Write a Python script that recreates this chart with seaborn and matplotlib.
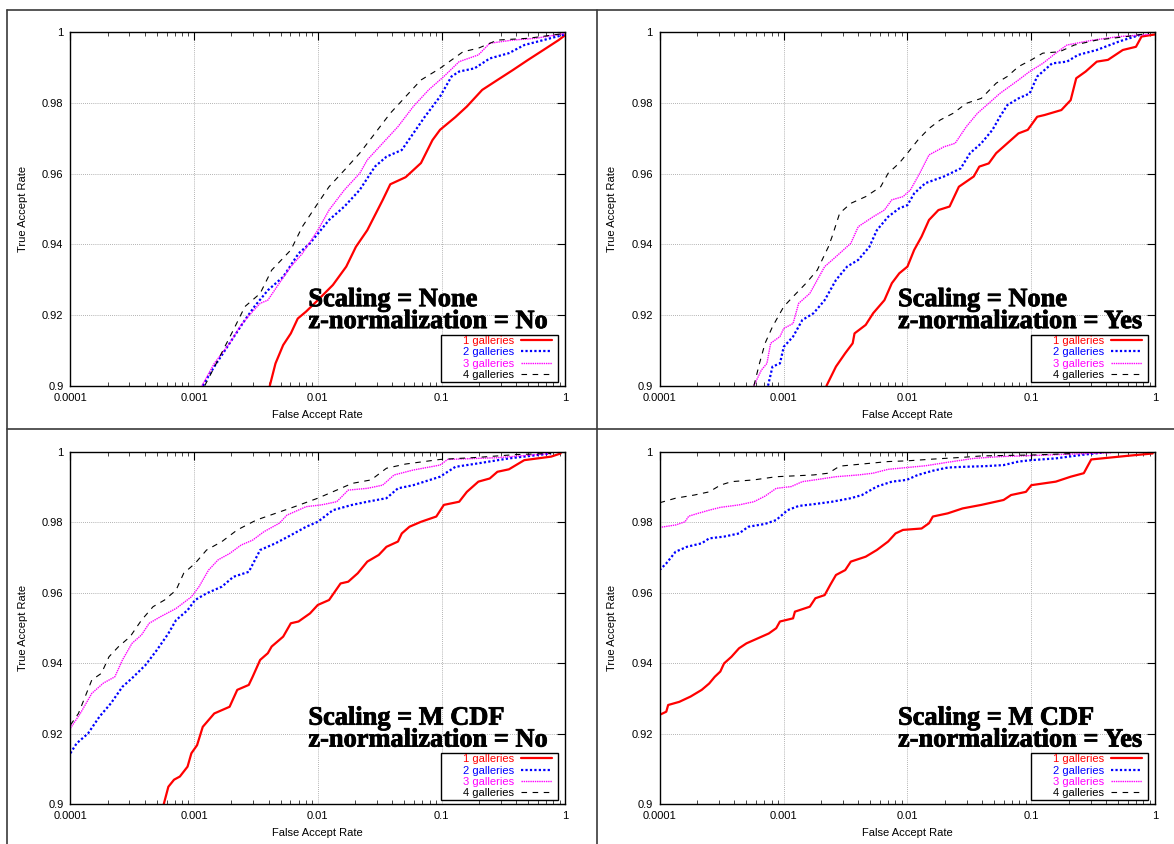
import numpy as np
import pandas as pd
import matplotlib
matplotlib.use("Agg")
import matplotlib.pyplot as plt
from matplotlib.lines import Line2D
from matplotlib.patches import Rectangle
import matplotlib.patheffects as pe
from matplotlib.ticker import LogLocator, FixedLocator, FixedFormatter, NullFormatter
import seaborn as sns

sns.set_theme(style="white")
plt.rcParams["font.family"] = ["Liberation Sans", "DejaVu Sans"]
plt.rcParams["text.color"] = "black"
plt.rcParams["axes.labelcolor"] = "black"

# ---------------- data (FAR stored as log10 values, TAR as-is) ----------------
series_labels = ["1 galleries", "2 galleries", "3 galleries", "4 galleries"]
x_tick_vals = [0.0001, 0.001, 0.01, 0.1, 1]
x_tick_labels = ["0.0001", "0.001", "0.01", "0.1", "1"]
y_tick_vals = [0.9, 0.92, 0.94, 0.96, 0.98, 1.0]
y_tick_labels = ["0.9", "0.92", "0.94", "0.96", "0.98", "1"]
panel_titles = ["Scaling = None\nz-normalization = No",
                "Scaling = None\nz-normalization = Yes",
                "Scaling = M CDF\nz-normalization = No",
                "Scaling = M CDF\nz-normalization = Yes"]

# Panel 1: Scaling None, z-norm No
p1_g1_logfar = [-2.388, -2.342, -2.28, -2.218, -2.162, -2.094, -2.0, -1.878, -1.77, -1.692, -1.6, -1.476, -1.414, -1.29, -1.166, -1.073, -1.012, -0.888, -0.795, -0.671, -0.548, -0.424, -0.3, -0.176, -0.053, 0.0]
p1_g1_tar = [0.9, 0.9063, 0.9115, 0.9148, 0.919, 0.921, 0.9242, 0.9285, 0.9337, 0.9393, 0.944, 0.9525, 0.957, 0.959, 0.963, 0.9695, 0.9724, 0.976, 0.979, 0.9837, 0.9865, 0.9893, 0.9922, 0.995, 0.9978, 0.9992]
p1_g2_logfar = [-2.93, -2.837, -2.713, -2.589, -2.512, -2.404, -2.28, -2.156, -2.063, -2.0, -1.909, -1.785, -1.661, -1.538, -1.445, -1.321, -1.228, -1.135, -1.012, -0.919, -0.857, -0.733, -0.61, -0.455, -0.331, -0.176, 0.0]
p1_g2_tar = [0.9, 0.9054, 0.912, 0.9186, 0.9224, 0.927, 0.9308, 0.9374, 0.9403, 0.943, 0.9469, 0.9507, 0.9554, 0.962, 0.9648, 0.9667, 0.9714, 0.9761, 0.9818, 0.9875, 0.9889, 0.9898, 0.9926, 0.9941, 0.9964, 0.9978, 0.9994]
p1_g3_logfar = [-2.936, -2.837, -2.713, -2.62, -2.527, -2.466, -2.404, -2.311, -2.218, -2.125, -2.0, -1.909, -1.785, -1.661, -1.6, -1.476, -1.352, -1.228, -1.104, -0.981, -0.857, -0.702, -0.61, -0.424, -0.238, 0.0]
p1_g3_tar = [0.9, 0.9063, 0.912, 0.9172, 0.921, 0.9233, 0.9242, 0.929, 0.9337, 0.9374, 0.944, 0.9497, 0.9554, 0.9601, 0.9639, 0.9686, 0.9733, 0.979, 0.9837, 0.9875, 0.9917, 0.9936, 0.9969, 0.9978, 0.9983, 0.9997]
p1_g4_logfar = [-2.914, -2.806, -2.682, -2.589, -2.466, -2.373, -2.218, -2.125, -2.0, -1.909, -1.785, -1.661, -1.538, -1.414, -1.29, -1.166, -1.012, -0.826, -0.702, -0.548, -0.3, 0.0]
p1_g4_tar = [0.9, 0.9073, 0.9158, 0.9224, 0.9261, 0.9327, 0.9384, 0.945, 0.9516, 0.9563, 0.961, 0.9658, 0.9714, 0.9771, 0.9818, 0.9865, 0.9898, 0.9945, 0.9955, 0.9978, 0.9983, 0.9997]

# Panel 2: Scaling None, z-norm Yes
p2_g1_logfar = [-2.653, -2.577, -2.502, -2.442, -2.427, -2.337, -2.277, -2.186, -2.126, -2.066, -2.0, -1.946, -1.886, -1.826, -1.75, -1.66, -1.585, -1.465, -1.42, -1.344, -1.284, -1.194, -1.104, -1.029, -0.953, -0.893, -0.758, -0.683, -0.638, -0.562, -0.472, -0.382, -0.262, -0.156, -0.111, 0.0]
p2_g1_tar = [0.9, 0.9054, 0.9092, 0.912, 0.9148, 0.9172, 0.9205, 0.9242, 0.929, 0.9318, 0.9337, 0.9384, 0.9422, 0.9469, 0.9497, 0.9507, 0.9563, 0.9592, 0.962, 0.9629, 0.9658, 0.9686, 0.9714, 0.9724, 0.9761, 0.9766, 0.978, 0.9808, 0.987, 0.9889, 0.9917, 0.9922, 0.995, 0.9959, 0.9988, 0.9994]
p2_g2_logfar = [-3.125, -3.089, -3.029, -2.998, -2.923, -2.848, -2.758, -2.668, -2.577, -2.487, -2.397, -2.307, -2.247, -2.156, -2.066, -2.0, -1.946, -1.856, -1.705, -1.57, -1.495, -1.404, -1.314, -1.254, -1.194, -1.104, -1.014, -0.953, -0.833, -0.713, -0.623, -0.472, -0.292, -0.111]
p2_g2_tar = [0.9, 0.9054, 0.9063, 0.911, 0.9139, 0.9186, 0.9205, 0.9242, 0.9299, 0.9337, 0.9356, 0.9393, 0.944, 0.9478, 0.9502, 0.9511, 0.9544, 0.9573, 0.9592, 0.9615, 0.9658, 0.9686, 0.9724, 0.9761, 0.9794, 0.9813, 0.9827, 0.9875, 0.9912, 0.9917, 0.9936, 0.995, 0.9974, 0.9994]
p2_g3_logfar = [-3.239, -3.179, -3.134, -3.104, -3.029, -2.998, -2.923, -2.878, -2.788, -2.668, -2.577, -2.457, -2.397, -2.277, -2.186, -2.126, -2.036, -1.976, -1.901, -1.826, -1.705, -1.615, -1.525, -1.435, -1.344, -1.254, -1.104, -1.014, -0.908, -0.803, -0.713, -0.502, -0.292, -0.051]
p2_g3_tar = [0.9, 0.9044, 0.9063, 0.912, 0.9139, 0.9162, 0.9176, 0.9233, 0.9261, 0.9337, 0.9365, 0.9403, 0.945, 0.9478, 0.9497, 0.9526, 0.9535, 0.9554, 0.9601, 0.9653, 0.9676, 0.9686, 0.9733, 0.9771, 0.9799, 0.9827, 0.9865, 0.9889, 0.9912, 0.9941, 0.9964, 0.9978, 0.9988, 0.9994]
p2_g4_logfar = [-3.239, -3.194, -3.149, -3.089, -2.998, -2.923, -2.818, -2.728, -2.638, -2.608, -2.547, -2.457, -2.337, -2.216, -2.156, -2.066, -2.0, -1.916, -1.826, -1.735, -1.63, -1.525, -1.404, -1.284, -1.194, -1.104, -1.0, -0.908, -0.773, -0.653, -0.472, -0.232, -0.051]
p2_g4_tar = [0.9, 0.9063, 0.912, 0.9167, 0.9224, 0.9252, 0.929, 0.9327, 0.9393, 0.9422, 0.9488, 0.9516, 0.9535, 0.9563, 0.9601, 0.963, 0.9658, 0.9695, 0.9728, 0.9752, 0.9771, 0.9799, 0.9813, 0.9856, 0.9875, 0.9903, 0.9922, 0.9941, 0.9945, 0.9964, 0.9978, 0.9988, 0.9997]

# Panel 3: Scaling M CDF, z-norm No
p3_g1_logfar = [-3.245, -3.208, -3.162, -3.115, -3.053, -3.022, -2.976, -2.93, -2.837, -2.713, -2.651, -2.558, -2.527, -2.466, -2.404, -2.373, -2.28, -2.218, -2.156, -2.063, -2.0, -1.909, -1.816, -1.754, -1.677, -1.6, -1.507, -1.445, -1.352, -1.321, -1.259, -1.166, -1.042, -0.981, -0.857, -0.795, -0.702, -0.61, -0.548, -0.455, -0.331, -0.114, -0.037]
p3_g1_tar = [0.9, 0.9049, 0.9069, 0.9078, 0.9106, 0.9144, 0.9167, 0.9219, 0.9257, 0.9276, 0.9324, 0.9338, 0.9361, 0.9409, 0.9428, 0.9447, 0.9475, 0.9513, 0.9518, 0.9541, 0.9565, 0.9579, 0.9626, 0.9631, 0.9655, 0.9688, 0.9707, 0.973, 0.9745, 0.9768, 0.9787, 0.9801, 0.9816, 0.9849, 0.9858, 0.9886, 0.9915, 0.9924, 0.9943, 0.995, 0.9976, 0.9986, 0.9995]
p3_g2_logfar = [-4.0, -3.95, -3.858, -3.765, -3.672, -3.579, -3.502, -3.394, -3.301, -3.208, -3.146, -3.053, -2.992, -2.899, -2.775, -2.682, -2.558, -2.466, -2.342, -2.218, -2.094, -2.0, -1.878, -1.723, -1.6, -1.445, -1.352, -1.228, -1.012, -0.888, -0.702, -0.455, -0.114]
p3_g2_tar = [0.9144, 0.9172, 0.92, 0.9248, 0.9286, 0.9333, 0.9357, 0.9394, 0.9437, 0.9484, 0.9522, 0.955, 0.9579, 0.9598, 0.9617, 0.9645, 0.9659, 0.9721, 0.974, 0.9763, 0.9787, 0.9801, 0.9834, 0.9849, 0.9858, 0.9868, 0.9896, 0.9905, 0.9929, 0.9957, 0.9967, 0.9981, 0.9995]
p3_g3_logfar = [-4.0, -3.92, -3.827, -3.734, -3.641, -3.579, -3.502, -3.425, -3.363, -3.27, -3.146, -3.022, -2.96, -2.883, -2.806, -2.713, -2.62, -2.527, -2.435, -2.311, -2.249, -2.094, -1.971, -1.847, -1.754, -1.6, -1.476, -1.383, -1.228, -1.012, -0.95, -0.548, -0.114]
p3_g3_tar = [0.9215, 0.9257, 0.9314, 0.9343, 0.9361, 0.9409, 0.9456, 0.948, 0.9513, 0.9532, 0.9555, 0.9588, 0.9617, 0.9664, 0.9693, 0.9711, 0.9735, 0.9749, 0.9773, 0.9797, 0.982, 0.9844, 0.9849, 0.9858, 0.9891, 0.9896, 0.9905, 0.9934, 0.9948, 0.9962, 0.9978, 0.9983, 0.9995]
p3_g4_logfar = [-4.0, -3.935, -3.827, -3.749, -3.688, -3.61, -3.517, -3.425, -3.332, -3.239, -3.146, -3.084, -2.992, -2.899, -2.775, -2.651, -2.497, -2.342, -2.187, -2.0, -1.847, -1.723, -1.569, -1.445, -1.29, -1.012, -0.702, -0.393, -0.114]
p3_g4_tar = [0.9224, 0.9257, 0.9352, 0.9371, 0.9418, 0.9447, 0.9475, 0.9522, 0.956, 0.9579, 0.9607, 0.9655, 0.9683, 0.9721, 0.9745, 0.9778, 0.9806, 0.9825, 0.9844, 0.9868, 0.9891, 0.991, 0.992, 0.9953, 0.9965, 0.9978, 0.9984, 0.9992, 0.9995]

# Panel 4: Scaling M CDF, z-norm Yes
p4_g1_logfar = [-4.0, -3.946, -3.931, -3.841, -3.75, -3.66, -3.6, -3.555, -3.51, -3.48, -3.42, -3.359, -3.299, -3.209, -3.119, -3.059, -3.029, -2.923, -2.908, -2.788, -2.743, -2.668, -2.623, -2.577, -2.502, -2.457, -2.337, -2.247, -2.156, -2.096, -2.036, -1.886, -1.826, -1.795, -1.675, -1.555, -1.404, -1.224, -1.164, -1.044, -1.0, -0.803, -0.683, -0.577, -0.517, -0.232, -0.021]
p4_g1_tar = [0.9253, 0.9262, 0.9281, 0.929, 0.9305, 0.9324, 0.9342, 0.9361, 0.9376, 0.9399, 0.9418, 0.9442, 0.9456, 0.947, 0.9484, 0.9499, 0.9518, 0.9527, 0.9546, 0.956, 0.9584, 0.9593, 0.9622, 0.965, 0.9664, 0.9688, 0.9702, 0.9721, 0.9745, 0.9768, 0.9778, 0.9782, 0.9797, 0.9816, 0.9825, 0.9839, 0.9849, 0.9863, 0.9877, 0.9886, 0.9905, 0.9915, 0.9929, 0.9939, 0.9978, 0.9988, 0.9995]
p4_g2_logfar = [-4.0, -3.946, -3.871, -3.78, -3.66, -3.6, -3.48, -3.359, -3.284, -3.149, -3.059, -2.968, -2.878, -2.758, -2.608, -2.457, -2.367, -2.247, -2.126, -2.006, -1.916, -1.795, -1.675, -1.555, -1.374, -1.224, -1.104, -1.0, -0.803, -0.592, -0.412]
p4_g2_tar = [0.9664, 0.9683, 0.9716, 0.973, 0.974, 0.9754, 0.9759, 0.9768, 0.9787, 0.9795, 0.9806, 0.9834, 0.9846, 0.9851, 0.9858, 0.9868, 0.9877, 0.9901, 0.9915, 0.992, 0.9934, 0.9946, 0.9955, 0.9957, 0.9959, 0.9962, 0.9972, 0.9976, 0.9981, 0.9991, 0.9998]
p4_g3_logfar = [-4.0, -3.871, -3.795, -3.765, -3.69, -3.6, -3.51, -3.359, -3.239, -3.149, -3.059, -2.938, -2.848, -2.728, -2.577, -2.397, -2.277, -2.156, -2.006, -1.856, -1.675, -1.465, -1.254, -1.0, -0.773, -0.532, -0.352]
p4_g3_tar = [0.9785, 0.9792, 0.9801, 0.9817, 0.9825, 0.9834, 0.9842, 0.9849, 0.9858, 0.9874, 0.9896, 0.9901, 0.9915, 0.9921, 0.9929, 0.9934, 0.9939, 0.995, 0.9955, 0.996, 0.997, 0.9981, 0.9986, 0.9989, 0.9992, 0.9995, 0.9997]
p4_g4_logfar = [-4.0, -3.871, -3.72, -3.6, -3.51, -3.42, -3.239, -3.059, -2.938, -2.758, -2.638, -2.547, -2.397, -2.156, -2.006, -1.795, -1.555, -1.404, -0.953, -0.653]
p4_g4_tar = [0.9855, 0.9868, 0.9877, 0.9886, 0.9905, 0.9915, 0.992, 0.9929, 0.9931, 0.9934, 0.9939, 0.9959, 0.9964, 0.9972, 0.9974, 0.9979, 0.9984, 0.9988, 0.9991, 0.9995]

panels = [
    [(p1_g1_logfar, p1_g1_tar), (p1_g2_logfar, p1_g2_tar), (p1_g3_logfar, p1_g3_tar), (p1_g4_logfar, p1_g4_tar)],
    [(p2_g1_logfar, p2_g1_tar), (p2_g2_logfar, p2_g2_tar), (p2_g3_logfar, p2_g3_tar), (p2_g4_logfar, p2_g4_tar)],
    [(p3_g1_logfar, p3_g1_tar), (p3_g2_logfar, p3_g2_tar), (p3_g3_logfar, p3_g3_tar), (p3_g4_logfar, p3_g4_tar)],
    [(p4_g1_logfar, p4_g1_tar), (p4_g2_logfar, p4_g2_tar), (p4_g3_logfar, p4_g3_tar), (p4_g4_logfar, p4_g4_tar)],
]

# ---------------- styles ----------------
colors = ["#ff0000", "#0000ff", "#ff00ff", "#000000"]
widths = [1.6, 1.6, 1.0, 0.8]
styles = ["-", (0, (1.0, 1.0)), (0, (1.0, 0.6)), (0, (5, 5))]

W, H = 1174, 844
fig = plt.figure(figsize=(W / 100, H / 100), dpi=100)
fig.patch.set_facecolor("white")

# axes rectangles in pixels: left, top, right, bottom
rects = [(70.4, 32.3, 565.2, 385.7), (659.6, 32.3, 1155.3, 385.7),
         (70.4, 451.7, 565.2, 804.0), (659.6, 451.7, 1155.3, 804.0)]

for pi, (l, t, r, b) in enumerate(rects):
    ax = fig.add_axes([l / W, (H - b) / H, (r - l) / W, (b - t) / H])
    ax.set_facecolor("white")
    for gi, (lf, tar) in enumerate(panels[pi]):
        df = pd.DataFrame({"far": np.power(10.0, np.array(lf)), "tar": tar})
        sns.lineplot(data=df, x="far", y="tar", ax=ax, color=colors[gi],
                     linewidth=widths[gi], linestyle=styles[gi],
                     estimator=None, sort=True, label=series_labels[gi])
    ax.set_xscale("log")
    ax.set_xlim(1e-4, 1)
    ax.set_ylim(0.9, 1.0)
    ax.xaxis.set_major_locator(FixedLocator(x_tick_vals))
    ax.xaxis.set_major_formatter(FixedFormatter(x_tick_labels))
    ax.xaxis.set_minor_locator(LogLocator(base=10, subs=np.arange(2, 10), numticks=20))
    ax.xaxis.set_minor_formatter(NullFormatter())
    ax.yaxis.set_major_locator(FixedLocator(y_tick_vals))
    ax.yaxis.set_major_formatter(FixedFormatter(y_tick_labels))
    ax.tick_params(axis="both", which="major", direction="in", length=6, width=0.8,
                   top=True, right=True, labelsize=8, colors="black", pad=5)
    ax.tick_params(axis="x", which="minor", direction="in", length=3, width=0.6,
                   top=True, bottom=True)
    ax.grid(True, which="major", color="#9a9a9a", linestyle=(0, (1, 1.5)), linewidth=0.6)
    for s in ax.spines.values():
        s.set_color("black")
        s.set_linewidth(1.0)
    ax.set_xlabel("False Accept Rate", fontsize=8, labelpad=5, color="black")
    ax.set_ylabel("True Accept Rate", fontsize=8, labelpad=10, color="black")
    ax.text(0.481, 0.163, panel_titles[pi], transform=ax.transAxes,
            ha="left", va="baseline", fontsize=19, fontweight="bold", color="black",
            family=["Liberation Serif", "DejaVu Serif"], linespacing=0.94, zorder=5,
            path_effects=[pe.withStroke(linewidth=0.6, foreground="black")])
    # legend box (opaque frame) and right-aligned entries as in the original
    ax.add_patch(Rectangle((0.749, 0.011), 0.237, 0.133, transform=ax.transAxes,
                           facecolor="white", edgecolor="black", linewidth=1.0,
                           zorder=6, clip_on=False))
    leg = ax.legend(loc="lower right", bbox_to_anchor=(0.973, 0.016),
                    borderaxespad=0, markerfirst=False,
                    labelcolor="linecolor", fontsize=8, frameon=False,
                    handlelength=2.8, handletextpad=0.6, labelspacing=0.12,
                    borderpad=0)
    leg.set_zorder(7)

# panel frame lines (page decoration)
frame_color = "#3a3a3a"
fig.add_artist(Line2D([7 / W, 1], [1 - 10 / H, 1 - 10 / H], color=frame_color, lw=1.2))
fig.add_artist(Line2D([7 / W, 1], [1 - 429 / H, 1 - 429 / H], color=frame_color, lw=1.2))
fig.add_artist(Line2D([7 / W, 7 / W], [0, 1 - 10 / H], color=frame_color, lw=1.2))
fig.add_artist(Line2D([597 / W, 597 / W], [0, 1 - 10 / H], color=frame_color, lw=1.2))

fig.savefig("out.png", dpi=100, facecolor="white")
